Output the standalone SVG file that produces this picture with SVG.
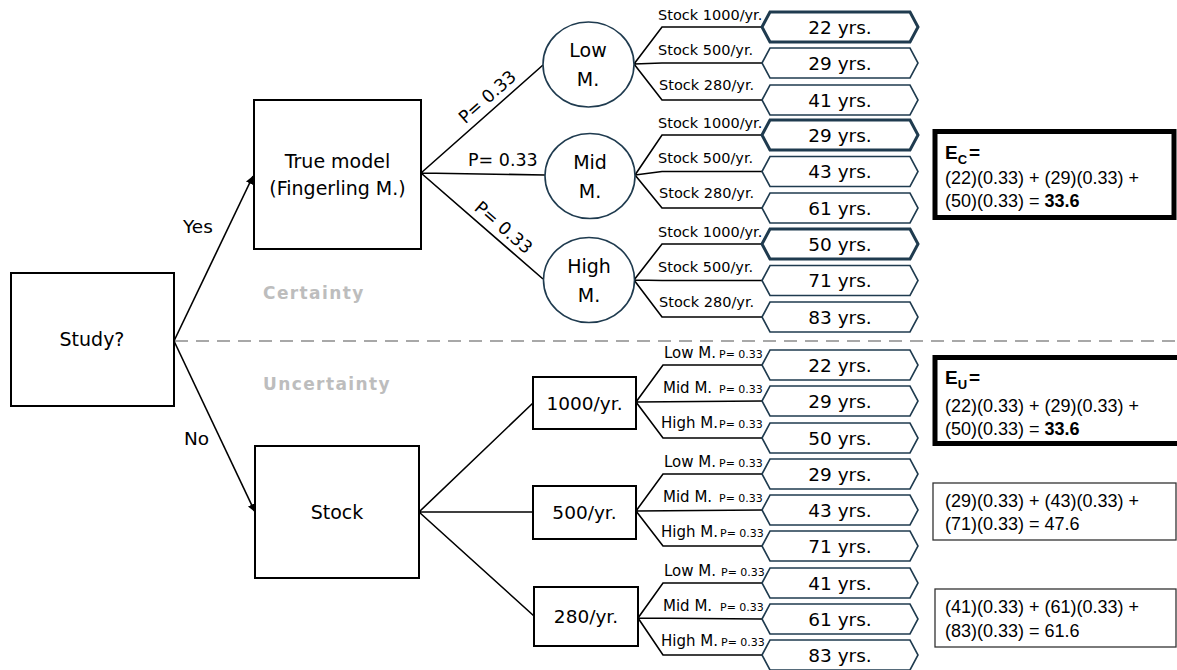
<svg xmlns="http://www.w3.org/2000/svg" width="1177" height="670" viewBox="0 0 1177 670">
<defs>
<marker id="ah" viewBox="0 0 10 10" refX="10" refY="5" markerWidth="8" markerHeight="8" markerUnits="userSpaceOnUse" orient="auto">
<path d="M0,0 L10,5 L0,10 z" fill="#000"/>
</marker>
</defs>
<style>
.box{fill:#fff;stroke:#000;stroke-width:2}
.circ{fill:#fff;stroke:#1f3b4f;stroke-width:1.6}
.hex{fill:#fff;stroke:#1f3b4f;stroke-width:1.6}
.hexb{fill:#fff;stroke:#1f3b4f;stroke-width:3}
.ln{fill:none;stroke:#000;stroke-width:1.6}
.t{font-family:"DejaVu Sans","Liberation Sans",sans-serif;fill:#000}
.n{font-size:19px;text-anchor:middle}
.h{font-size:18.5px;text-anchor:middle}
.p{font-size:17.5px}
.yn{font-size:18.5px}
.s{font-size:14.5px}
.m{font-size:15px}
.sp{font-size:11px}
.g{font-family:"DejaVu Sans","Liberation Sans",sans-serif;font-weight:bold;font-size:17px;fill:#bdbdbd;letter-spacing:1.4px}
.e{font-family:"Liberation Sans",Arial,sans-serif;font-size:18px;fill:#000}
.eb{font-weight:bold}
.ebox{fill:#fff;stroke:#000;stroke-width:5}
.rbox{fill:#fff;stroke:#333;stroke-width:1.3}
</style>

<line x1="175" y1="341" x2="1177" y2="341" stroke="#a8a8a8" stroke-width="2" stroke-dasharray="13 8"/>
<text class="g" x="263" y="299">Certainty</text>
<text class="g" x="263" y="390">Uncertainty</text>

<g id="connectors">
<line class="ln" x1="174" y1="341" x2="253" y2="176" marker-end="url(#ah)"/>
<line class="ln" x1="174" y1="341" x2="255" y2="512" marker-end="url(#ah)"/>
<text class="t yn" x="183" y="233">Yes</text>
<text class="t yn" x="184" y="445">No</text>
<path class="ln" d="M421,173 L543,65 M421,173 L545,175 M421,173 L543,279"/>
<text class="t p" text-anchor="middle" transform="translate(421,173) rotate(-41.5)" x="100" y="-7">P= 0.33</text>
<text class="t p" x="468" y="166">P= 0.33</text>
<text class="t p" text-anchor="middle" transform="translate(421,173) rotate(41)" x="98" y="-7">P= 0.33</text>
<path class="ln" d="M634,64 L662,27 L762,27 M634,64 L662,63 L762,63 M634,64 L662,100 L762,100"/>
<path class="ln" d="M635,175 L662,135 L762,135 M635,175 L662,171.5 L762,171.5 M635,175 L662,208 L762,208"/>
<path class="ln" d="M634,280 L662,244 L762,244 M634,280 L662,280.5 L762,280.5 M634,280 L662,317 L762,317"/>
<path class="ln" d="M419,512 L533,403 M419,512 L533,512 M419,512 L534,616"/>
<path class="ln" d="M636,402 L663,365 L762,365 M636,402 L762,401 M636,402 L663,438 L762,438"/>
<path class="ln" d="M636,511 L663,474 L762,474 M636,511 L762,510 M636,511 L663,546 L762,546"/>
<path class="ln" d="M638,618 L663,583 L762,583 M638,618 L762,619 M638,618 L663,655 L762,655"/>
<text class="t s" x="658" y="20">Stock 1000/yr.</text>
<text class="t s" x="658" y="55">Stock 500/yr.</text>
<text class="t s" x="659" y="90">Stock 280/yr.</text>
<text class="t s" x="658" y="128">Stock 1000/yr.</text>
<text class="t s" x="658" y="163">Stock 500/yr.</text>
<text class="t s" x="659" y="198">Stock 280/yr.</text>
<text class="t s" x="658" y="237">Stock 1000/yr.</text>
<text class="t s" x="658" y="272">Stock 500/yr.</text>
<text class="t s" x="659" y="307">Stock 280/yr.</text>
<text class="t m" x="664" y="358">Low M.</text><text class="t sp" x="719" y="358">P= 0.33</text>
<text class="t m" x="663" y="393">Mid M.</text><text class="t sp" x="719" y="393">P= 0.33</text>
<text class="t m" x="661" y="428">High M.</text><text class="t sp" x="719" y="428">P= 0.33</text>
<text class="t m" x="664" y="467">Low M.</text><text class="t sp" x="719" y="467">P= 0.33</text>
<text class="t m" x="663" y="502">Mid M.</text><text class="t sp" x="719" y="502">P= 0.33</text>
<text class="t m" x="661" y="537">High M.</text><text class="t sp" x="720" y="537">P= 0.33</text>
<text class="t m" x="664" y="576">Low M.</text><text class="t sp" x="721" y="576">P= 0.33</text>
<text class="t m" x="663" y="611">Mid M.</text><text class="t sp" x="720" y="611">P= 0.33</text>
<text class="t m" x="661" y="646">High M.</text><text class="t sp" x="721" y="646">P= 0.33</text>
</g>

<g id="study"><rect class="box" x="11" y="273" width="163" height="133"/><text class="t n" x="92" y="346">Study?</text></g>
<g id="true-model"><rect class="box" x="254" y="100" width="167" height="149"/><text class="t n" x="337.5" y="168">True model</text><text class="t n" x="337.5" y="195">(Fingerling M.)</text></g>
<g id="stock"><rect class="box" x="255" y="446" width="164" height="132"/><text class="t n" x="337" y="519">Stock</text></g>

<g id="low-m"><ellipse class="circ" cx="588.5" cy="64.5" rx="45.5" ry="42.5"/><text class="t n" x="588" y="57">Low</text><text class="t n" x="588" y="86">M.</text></g>
<g id="mid-m"><ellipse class="circ" cx="590" cy="176" rx="45" ry="42.5"/><text class="t n" x="590" y="169">Mid</text><text class="t n" x="590" y="198">M.</text></g>
<g id="high-m"><ellipse class="circ" cx="589" cy="280" rx="45.5" ry="42.5"/><text class="t n" x="589" y="273">High</text><text class="t n" x="589" y="302">M.</text></g>

<g id="s1000"><rect class="box" x="533" y="377" width="103" height="52"/><text class="t h" x="584.5" y="409.5">1000/yr.</text></g>
<g id="s500"><rect class="box" x="533" y="486" width="103" height="53"/><text class="t h" x="584.5" y="519">500/yr.</text></g>
<g id="s280"><rect class="box" x="534" y="587" width="104" height="59"/><text class="t h" x="586" y="623">280/yr.</text></g>

<g id="o1"><polygon class="hexb" points="762,27 770,12 910,12 918,27 910,42 770,42"/><text class="t h" x="840" y="33.5">22 yrs.</text></g>
<g id="o2"><polygon class="hex" points="762,63 770,48 910,48 918,63 910,78 770,78"/><text class="t h" x="840" y="69.5">29 yrs.</text></g>
<g id="o3"><polygon class="hex" points="762,100 770,85 910,85 918,100 910,115 770,115"/><text class="t h" x="840" y="106.5">41 yrs.</text></g>
<g id="o4"><polygon class="hexb" points="762,135 770,120 910,120 918,135 910,150 770,150"/><text class="t h" x="840" y="141.5">29 yrs.</text></g>
<g id="o5"><polygon class="hex" points="762,171.5 770,156.5 910,156.5 918,171.5 910,186.5 770,186.5"/><text class="t h" x="840" y="178">43 yrs.</text></g>
<g id="o6"><polygon class="hex" points="762,208 770,193 910,193 918,208 910,223 770,223"/><text class="t h" x="840" y="214.5">61 yrs.</text></g>
<g id="o7"><polygon class="hexb" points="762,244 770,229 910,229 918,244 910,259 770,259"/><text class="t h" x="840" y="250.5">50 yrs.</text></g>
<g id="o8"><polygon class="hex" points="762,280.5 770,265.5 910,265.5 918,280.5 910,295.5 770,295.5"/><text class="t h" x="840" y="287">71 yrs.</text></g>
<g id="o9"><polygon class="hex" points="762,317 770,302 910,302 918,317 910,332 770,332"/><text class="t h" x="840" y="323.5">83 yrs.</text></g>

<g id="u1"><polygon class="hex" points="762,365 770,350 910,350 918,365 910,380 770,380"/><text class="t h" x="840" y="371.5">22 yrs.</text></g>
<g id="u2"><polygon class="hex" points="762,401 770,386 910,386 918,401 910,416 770,416"/><text class="t h" x="840" y="407.5">29 yrs.</text></g>
<g id="u3"><polygon class="hex" points="762,438 770,423 910,423 918,438 910,453 770,453"/><text class="t h" x="840" y="444.5">50 yrs.</text></g>
<g id="u4"><polygon class="hex" points="762,474 770,459 910,459 918,474 910,489 770,489"/><text class="t h" x="840" y="480.5">29 yrs.</text></g>
<g id="u5"><polygon class="hex" points="762,510 770,495 910,495 918,510 910,525 770,525"/><text class="t h" x="840" y="516.5">43 yrs.</text></g>
<g id="u6"><polygon class="hex" points="762,546 770,531 910,531 918,546 910,561 770,561"/><text class="t h" x="840" y="552.5">71 yrs.</text></g>
<g id="u7"><polygon class="hex" points="762,583 770,568 910,568 918,583 910,598 770,598"/><text class="t h" x="840" y="589.5">41 yrs.</text></g>
<g id="u8"><polygon class="hex" points="762,619 770,604 910,604 918,619 910,634 770,634"/><text class="t h" x="840" y="625.5">61 yrs.</text></g>
<g id="u9"><polygon class="hex" points="762,655 770,640 910,640 918,655 910,670 770,670"/><text class="t h" x="840" y="661.5">83 yrs.</text></g>

<g id="ec"><rect class="ebox" x="935" y="131.5" width="239" height="86"/>
<text class="e eb" x="945" y="159"><tspan font-size="19">E</tspan><tspan font-size="13" dy="5">C</tspan><tspan font-size="19" dy="-5" dx="2">=</tspan></text>
<text class="e" x="945" y="184">(22)(0.33) + (29)(0.33) +</text>
<text class="e" x="945" y="207">(50)(0.33) = <tspan class="eb">33.6</tspan></text></g>

<g id="eu"><rect class="ebox" x="935" y="357.5" width="250" height="86"/>
<text class="e eb" x="945" y="384"><tspan font-size="19">E</tspan><tspan font-size="13" dy="5">U</tspan><tspan font-size="19" dy="-5" dx="2">=</tspan></text>
<text class="e" x="945" y="412">(22)(0.33) + (29)(0.33) +</text>
<text class="e" x="945" y="435">(50)(0.33) = <tspan class="eb">33.6</tspan></text></g>

<g id="e500"><rect class="rbox" x="933" y="483" width="243" height="57"/>
<text class="e" x="945" y="507">(29)(0.33) + (43)(0.33) +</text>
<text class="e" x="945" y="530">(71)(0.33) = 47.6</text></g>

<g id="e280"><rect class="rbox" x="935" y="589" width="241" height="58"/>
<text class="e" x="945" y="613">(41)(0.33) + (61)(0.33) +</text>
<text class="e" x="945" y="637">(83)(0.33) = 61.6</text></g>
</svg>
